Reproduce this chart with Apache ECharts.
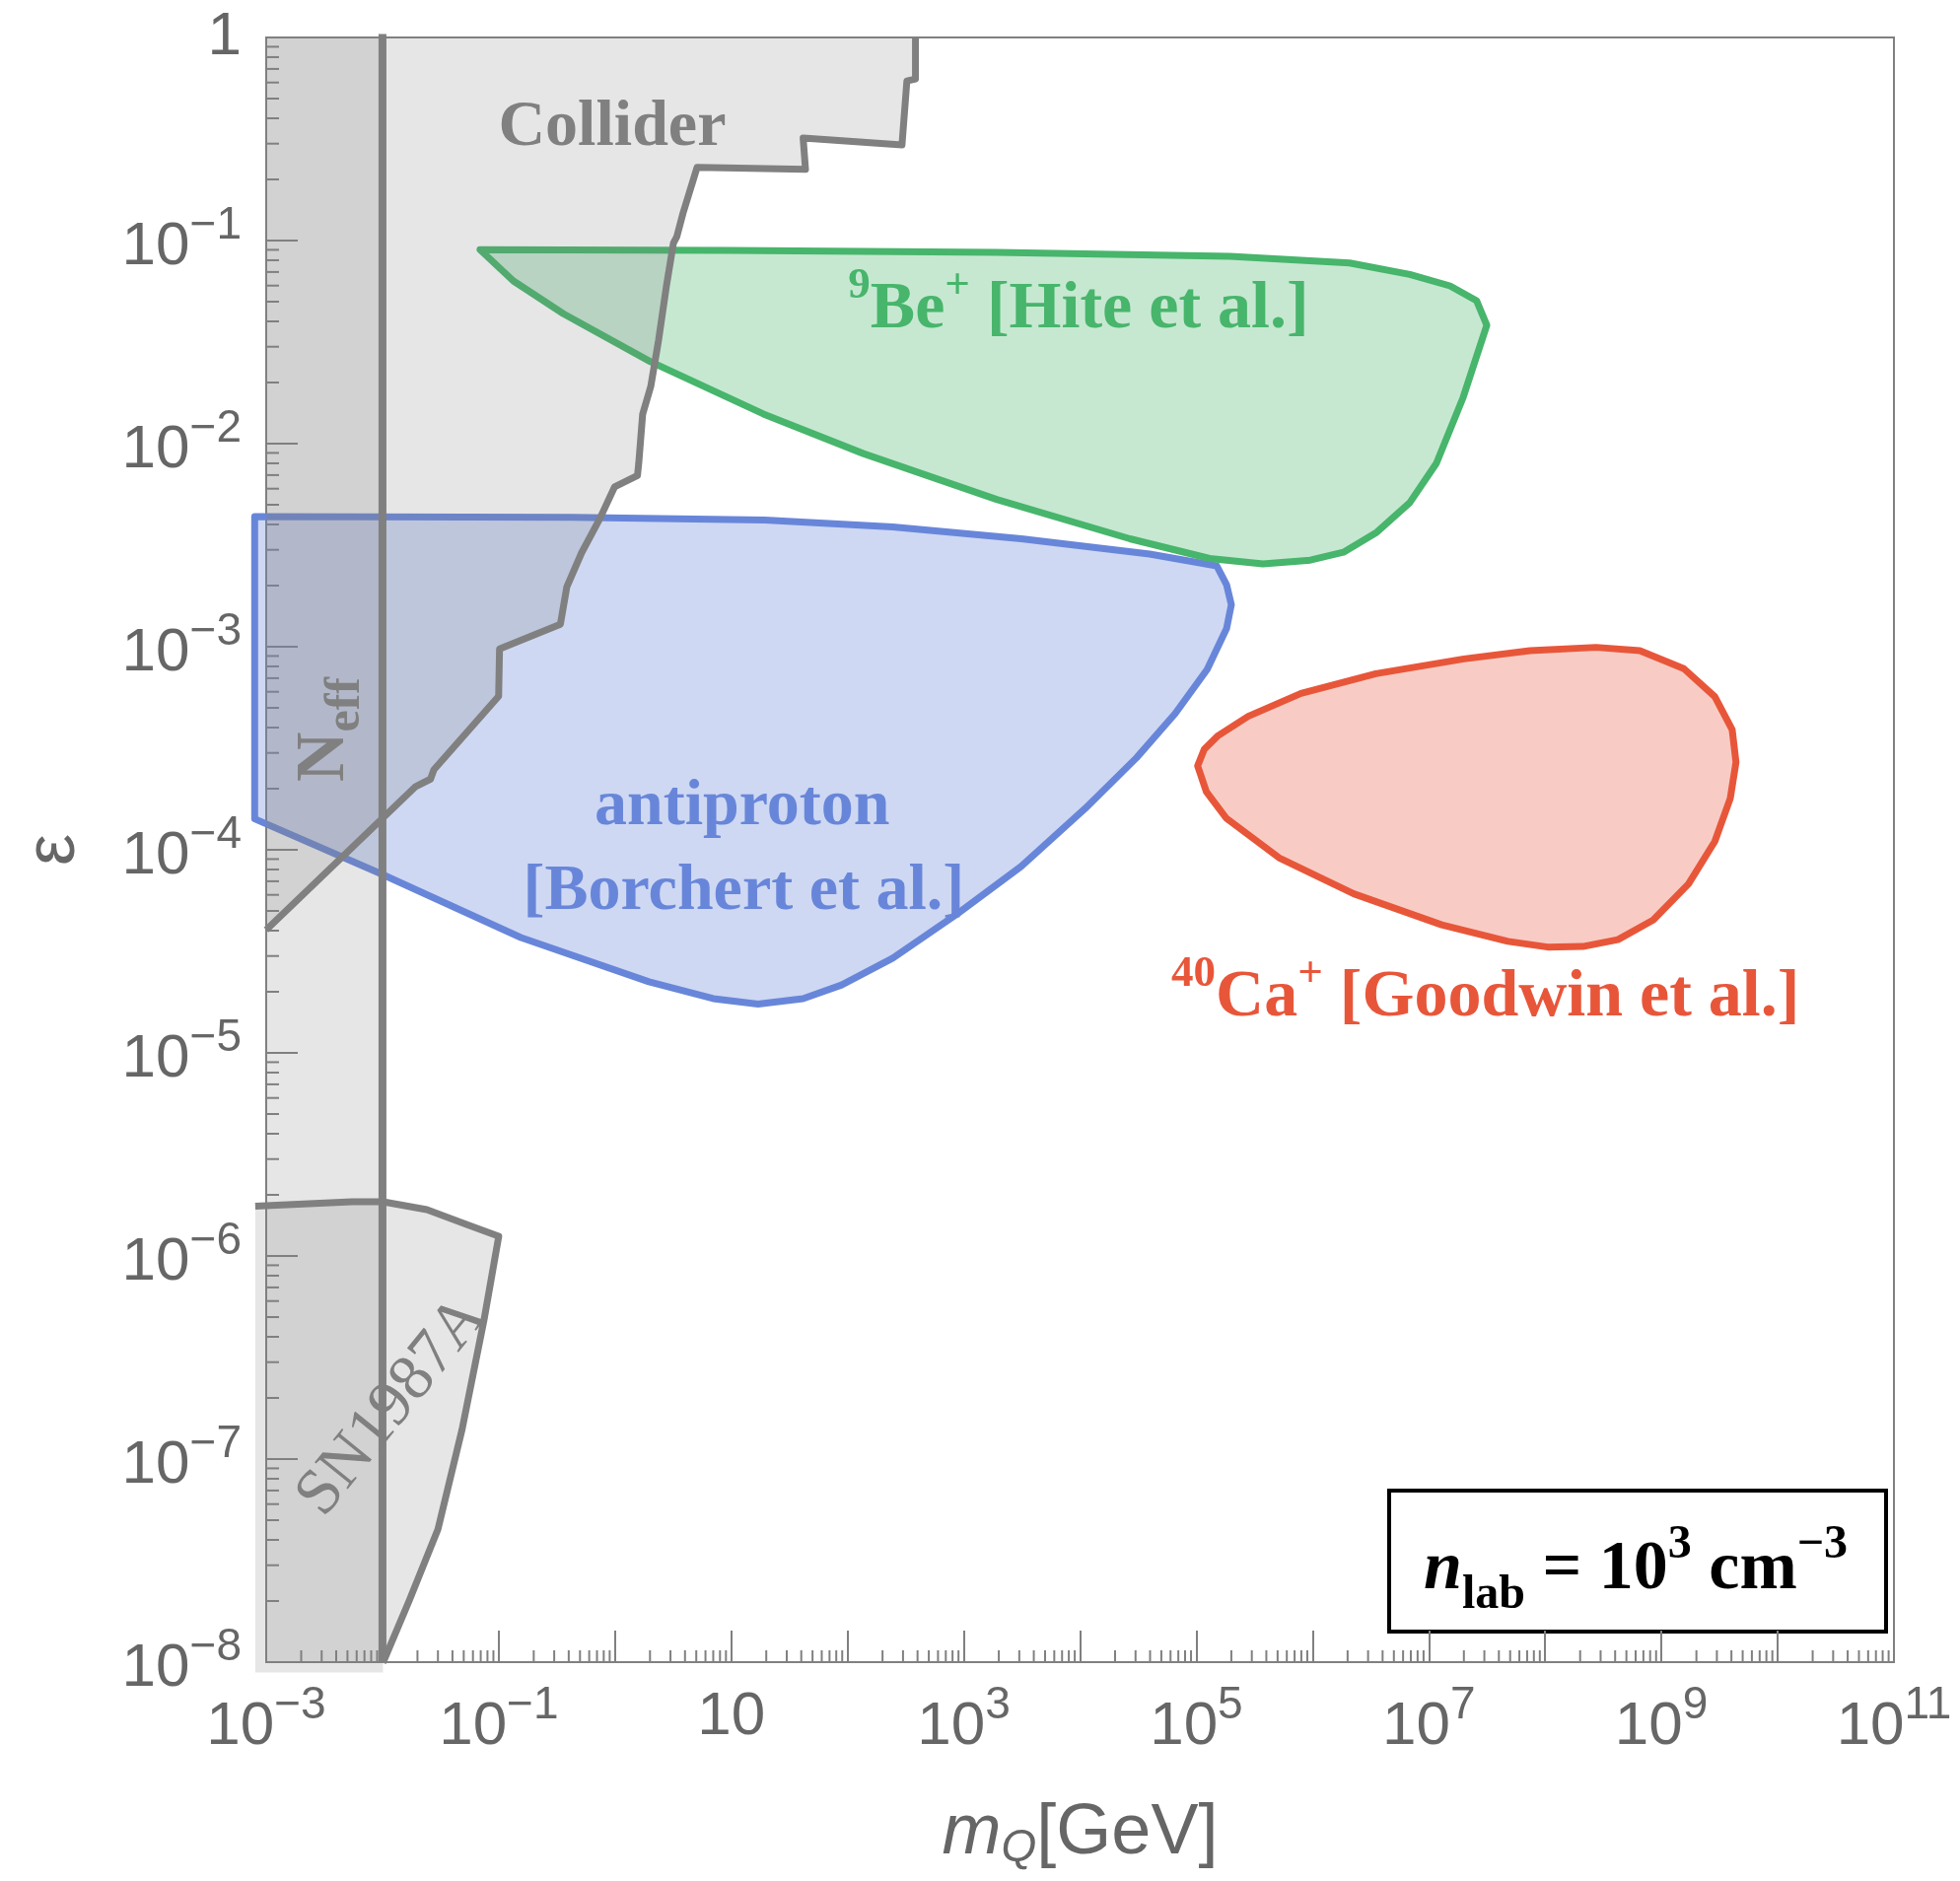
<!DOCTYPE html>
<html>
<head>
<meta charset="utf-8">
<script src="https://cdn.jsdelivr.net/npm/echarts@6.0.0/dist/echarts.min.js"></script>
<style>
html,body{margin:0;padding:0;background:#ffffff;}
#chart{width:1988px;height:1908px;}
</style>
</head>
<body>
<div id="chart"></div>
<script>
// ---------------- data: [m_Q (GeV), epsilon] ----------------
const X_LABEL_EXPONENTS = [-3, -1, 1, 3, 5, 7, 9, 11];
const Y_LABEL_EXPONENTS = [-8, -7, -6, -5, -4, -3, -2, -1, 0];

const COLLIDER_BOUND = [
  [384, 1.0], [384, 0.625], [324, 0.611], [294, 0.296], [41.5, 0.320], [43.5, 0.224],
  [5.08, 0.229], [3.84, 0.136], [3.40, 0.1045], [3.18, 0.097], [2.77, 0.0598],
  [2.37, 0.0323], [2.03, 0.0191], [1.73, 0.0140], [1.60, 0.0080], [1.56, 0.00697],
  [0.991, 0.00612], [0.740, 0.00427], [0.516, 0.00290], [0.385, 0.00197], [0.339, 0.00129],
  [0.1016, 0.000975], [0.0998, 0.000570], [0.0277, 0.000248], [0.0259, 0.000223],
  [0.0193, 0.000205], [0.001, 4.03e-5]
];

const NEFF_MASS = 0.01;

const SN1987A_BOUND = [
  [8.05e-4, 1.76e-6], [5.47e-3, 1.85e-6], [0.0101, 1.85e-6], [0.0241, 1.69e-6],
  [0.0528, 1.43e-6], [0.1, 1.25e-6], [0.0748, 4.86e-7], [0.0484, 1.40e-7],
  [0.0300, 4.51e-8], [0.0170, 2.01e-8], [0.0101, 9.93e-9]
];

const BE9_REGION = [
  [0.0690, 0.0902], [0.1337, 0.0632], [0.360, 0.0436], [2.00, 0.0254], [18.9, 0.0140],
  [137, 0.00893], [1919, 0.00531], [2.68e4, 0.00340], [1.30e5, 0.00272], [3.74e5, 0.00256],
  [9.55e5, 0.00267], [1.84e6, 0.00292], [3.56e6, 0.00366], [6.85e6, 0.00512],
  [1.16e7, 0.00800], [1.97e7, 0.01687], [3.15e7, 0.0383], [2.57e7, 0.0506],
  [1.52e7, 0.0598], [6.85e6, 0.0681], [2.08e6, 0.0776], [1.95e5, 0.0836],
  [1919, 0.0875], [9.77, 0.0893]
];

const ANTIPROTON_REGION = [
  [7.96e-4, 0.00437], [0.428, 0.00434], [19.4, 0.00421], [245, 0.00389], [3119, 0.00340],
  [3.96e4, 0.00286], [1.50e5, 0.00250], [1.82e5, 0.00202], [2.00e5, 0.00161],
  [1.82e5, 0.00123], [1.24e5, 0.000773], [6.58e4, 0.000469], [3.06e4, 0.000284],
  [1.11e4, 0.000160], [3112, 8.28e-5], [875, 4.83e-5], [245, 2.93e-5], [88.9, 2.16e-5],
  [41.4, 1.85e-5], [17.0, 1.74e-5], [7.00, 1.85e-5], [1.96, 2.24e-5], [0.155, 3.70e-5],
  [0.00946, 7.67e-5], [7.96e-4, 1.42e-4]
];

const CA40_REGION = [
  [1.026e5, 2.59e-4], [1.17e5, 3.13e-4], [1.52e5, 3.63e-4], [2.79e5, 4.54e-4],
  [7.94e5, 5.89e-4], [3.50e6, 7.36e-4], [2.00e7, 8.71e-4], [7.40e7, 9.57e-4],
  [2.74e8, 9.93e-4], [6.53e8, 9.57e-4], [1.56e9, 7.80e-4], [2.88e9, 5.68e-4],
  [4.06e9, 3.91e-4], [4.38e9, 2.70e-4], [3.91e9, 1.79e-4], [2.88e9, 1.10e-4],
  [1.71e9, 6.79e-5], [8.49e8, 4.51e-5], [4.23e8, 3.61e-5], [2.11e8, 3.34e-5],
  [1.05e8, 3.32e-5], [4.79e7, 3.54e-5], [1.29e7, 4.27e-5], [2.26e6, 6.07e-5],
  [5.14e5, 9.14e-5], [1.81e5, 1.43e-4], [1.22e5, 1.93e-4]
];

// minor tick positions (2..9 x 10^n)
const X_MINOR_TICKS = [];
for (let e = -3; e < 11; e++) for (let k = 2; k <= 9; k++) X_MINOR_TICKS.push(k * Math.pow(10, e));
const Y_MINOR_TICKS = [];
for (let e = -8; e < 0; e++) for (let k = 2; k <= 9; k++) Y_MINOR_TICKS.push(k * Math.pow(10, e));

// ---------------- styling ----------------
const X_MIN = 1e-3, X_MAX = 1e11, Y_MIN = 1e-8, Y_MAX = 1;
const AXIS = '#808080', LABEL = '#666666';
const GRAY_LINE = '#808080', GRAY_FILL = 'rgba(128,128,128,0.2)';
const GREEN = '#47b56b', BLUE = '#6886d9', RED = '#e8563a';
const SANS = 'Liberation Sans, Arial, sans-serif';
const SERIF = 'Liberation Serif, Times New Roman, serif';

function labelRich(color, size) {
  const base = {fontFamily: SERIF, fontWeight: 'bold', fill: color};
  return {
    t: Object.assign({}, base, {fontSize: size, lineHeight: 80, verticalAlign: 'bottom'}),
    s: Object.assign({}, base, {fontSize: 45, lineHeight: 36, verticalAlign: 'top'}),
    n: Object.assign({}, base, {fontSize: 70, lineHeight: 92, verticalAlign: 'middle'}),
    u: Object.assign({}, base, {fontSize: 50, lineHeight: 50, verticalAlign: 'bottom'}),
    r: Object.assign({}, base, {fontSize: size, fontWeight: 'normal', lineHeight: 80})
  };
}

const ANNOTATIONS = [
  {at: [0.946, 0.386], text: '{t|Collider}', color: GRAY_LINE, rot: 0, size: 66},
  {at: [9700, 0.0489], text: '{s|9}{t|Be}{s|+}{t| [Hite et al.]}', color: GREEN, rot: 0, size: 68},
  {at: [12.4, 1.75e-4], text: '{t|antiproton}', color: BLUE, rot: 0, size: 66},
  {at: [12.8, 6.68e-5], text: '{t|[Borchert et al.]}', color: BLUE, rot: 0, size: 66},
  {at: [3.07e7, 2.0e-5], text: '{s|40}{t|Ca}{s|+}{t| [Goodwin et al.]}', color: RED, rot: 0, size: 68},
  {at: [0.00323, 3.91e-4], text: '{n|N}{u|eff}', color: GRAY_LINE, rot: Math.PI / 2, size: 66},
  {at: [0.01216, 1.81e-7], text: '{r|SN1987A}', color: GRAY_LINE, rot: 51 * Math.PI / 180, size: 66}
];

function polygonSeries(pts, fill, stroke, lw) {
  return {
    type: 'custom', coordinateSystem: 'cartesian2d', silent: true, clip: false,
    data: [pts[0]],
    renderItem: function (params, api) {
      return {
        type: 'polygon',
        shape: {points: pts.map(function (p) { return api.coord(p); })},
        style: {fill: fill, stroke: stroke || null, lineWidth: lw || 0, lineJoin: 'round'}
      };
    }
  };
}
function polylineSeries(pts, color, lw) {
  return {
    type: 'custom', coordinateSystem: 'cartesian2d', silent: true, clip: false,
    data: [pts[0]],
    renderItem: function (params, api) {
      return {
        type: 'polyline',
        shape: {points: pts.map(function (p) { return api.coord(p); })},
        style: {fill: null, stroke: color, lineWidth: lw, lineJoin: 'round'}
      };
    }
  };
}

const colliderFill = COLLIDER_BOUND.concat([[X_MIN, Y_MAX]]);
const snFill = SN1987A_BOUND.concat([[0.0101, 8.9e-9], [8.05e-4, 8.9e-9]]);
const neffFill = [[X_MIN, Y_MAX], [NEFF_MASS, Y_MAX], [NEFF_MASS, Y_MIN], [X_MIN, Y_MIN]];
const neffLine = [[NEFF_MASS, 1.04], [NEFF_MASS, Y_MIN]];

function expLabel(v, shown) {
  const e = Math.round(Math.log10(v));
  if (shown.indexOf(e) < 0) return '';
  if (e === 0) return '{p|1}';
  if (e === 1) return '{p|10}';
  return '{b|10}{s|' + (e < 0 ? '\u2212' : '') + Math.abs(e) + '}';
}
const tickRich = {
  b: {fontSize: 62, fontFamily: SANS, color: LABEL, lineHeight: 76, verticalAlign: 'bottom'},
  s: {fontSize: 46, fontFamily: SANS, color: LABEL, lineHeight: 46, verticalAlign: 'top'},
  p: {fontSize: 62, fontFamily: SANS, color: LABEL, lineHeight: 70}
};

const chart = echarts.init(document.getElementById('chart'), null, {renderer: 'canvas'});
const option = {
  animation: false,
  backgroundColor: '#ffffff',
  grid: {left: 270, right: 67, top: 38, bottom: 222, show: true, borderColor: AXIS, borderWidth: 2,
         backgroundColor: 'transparent', containLabel: false, outerBoundsMode: 'none'},
  xAxis: {
    type: 'log', logBase: 10, min: X_MIN, max: X_MAX, interval: 1, splitNumber: 14,
    axisLine: {show: true, lineStyle: {color: AXIS, width: 2}},
    axisTick: {show: true, inside: true, length: 32, lineStyle: {color: AXIS, width: 2}},
    minorTick: {show: false},
    splitLine: {show: false},
    axisLabel: {margin: 21, formatter: function (v) { return expLabel(v, X_LABEL_EXPONENTS); }, rich: tickRich,
                showMinLabel: true, showMaxLabel: true, hideOverlap: false},
    name: '{m|m}{q|Q}{n|[GeV]}', nameLocation: 'middle', nameGap: 136, nameMoveOverlap: false,
    nameTextStyle: {rich: {
      m: {fontSize: 72, fontFamily: SANS, fontStyle: 'italic', color: LABEL, lineHeight: 76, verticalAlign: 'middle'},
      q: {fontSize: 46, fontFamily: SANS, fontStyle: 'italic', color: LABEL, lineHeight: 50, verticalAlign: 'bottom'},
      n: {fontSize: 72, fontFamily: SANS, color: LABEL, lineHeight: 76, verticalAlign: 'middle'}
    }}
  },
  yAxis: {
    type: 'log', logBase: 10, min: Y_MIN, max: Y_MAX, interval: 1, splitNumber: 8,
    axisLine: {show: true, lineStyle: {color: AXIS, width: 2}},
    axisTick: {show: true, inside: true, length: 32, lineStyle: {color: AXIS, width: 2}},
    minorTick: {show: false},
    splitLine: {show: false},
    axisLabel: {margin: 25, formatter: function (v) { return expLabel(v, Y_LABEL_EXPONENTS); },
                rich: tickRich, showMinLabel: true, showMaxLabel: true, hideOverlap: false},
    name: '\u03b5', nameLocation: 'middle', nameGap: 179, nameMoveOverlap: false,
    nameTextStyle: {fontSize: 72, fontFamily: SANS, color: LABEL}
  },
  series: [
    // minor ticks
    {type: 'custom', silent: true, data: X_MINOR_TICKS.map(function (v) { return [v, Y_MIN]; }),
     renderItem: function (params, api) {
       const p = api.coord([api.value(0), api.value(1)]);
       return {type: 'line', shape: {x1: p[0], y1: p[1], x2: p[0], y2: p[1] - 12}, style: {stroke: AXIS, lineWidth: 2}};
     }},
    {type: 'custom', silent: true, data: Y_MINOR_TICKS.map(function (v) { return [X_MIN, v]; }),
     renderItem: function (params, api) {
       const p = api.coord([api.value(0), api.value(1)]);
       return {type: 'line', shape: {x1: p[0], y1: p[1], x2: p[0] + 13, y2: p[1]}, style: {stroke: AXIS, lineWidth: 2}};
     }},
    // coloured regions
    polygonSeries(ANTIPROTON_REGION, 'rgba(104,134,217,0.32)', BLUE, 7),
    polygonSeries(BE9_REGION, 'rgba(71,181,107,0.31)', GREEN, 7),
    polygonSeries(CA40_REGION, 'rgba(232,86,58,0.30)', RED, 7),
    // gray excluded regions
    polygonSeries(neffFill, GRAY_FILL),
    polygonSeries(colliderFill, GRAY_FILL),
    polygonSeries(snFill, GRAY_FILL),
    polylineSeries(COLLIDER_BOUND, GRAY_LINE, 7),
    polylineSeries(SN1987A_BOUND, GRAY_LINE, 7),
    polylineSeries(neffLine, GRAY_LINE, 8),
    // annotations
    {type: 'custom', silent: true, clip: false, data: ANNOTATIONS.map(function (a) { return a.at; }),
     renderItem: function (params, api) {
       const a = ANNOTATIONS[params.dataIndex];
       const p = api.coord([api.value(0), api.value(1)]);
       return {type: 'text', x: p[0], y: p[1], rotation: a.rot,
               style: {text: a.text, rich: labelRich(a.color, a.size), fill: a.color, fontFamily: SERIF,
                       fontWeight: 'bold', fontSize: a.size, align: 'center', verticalAlign: 'middle'}};
     }}
  ],
  graphic: [{
    type: 'group', left: 1407, top: 1510,
    children: [
      {type: 'rect', shape: {x: 2, y: 2, width: 504, height: 143}, style: {fill: '#ffffff', stroke: '#000000', lineWidth: 4}},
      {type: 'text', x: 252, y: 83,
       style: {text: '{i|n}{sub|lab}{m| = 10}{sup|3}{m| cm}{sup|\u22123}', align: 'center', verticalAlign: 'middle',
               rich: {
                 i: {fontSize: 70, fontFamily: SERIF, fontWeight: 'bold', fontStyle: 'italic', fill: '#000', lineHeight: 99, verticalAlign: 'middle'},
                 m: {fontSize: 70, fontFamily: SERIF, fontWeight: 'bold', fill: '#000', lineHeight: 99, verticalAlign: 'middle'},
                 sub: {fontSize: 48, fontFamily: SERIF, fontWeight: 'bold', fill: '#000', lineHeight: 30, verticalAlign: 'bottom'},
                 sup: {fontSize: 48, fontFamily: SERIF, fontWeight: 'bold', fill: '#000', lineHeight: 30, verticalAlign: 'top'}
               }}}
    ]
  }]
};
chart.setOption(option);
</script>
</body>
</html>
